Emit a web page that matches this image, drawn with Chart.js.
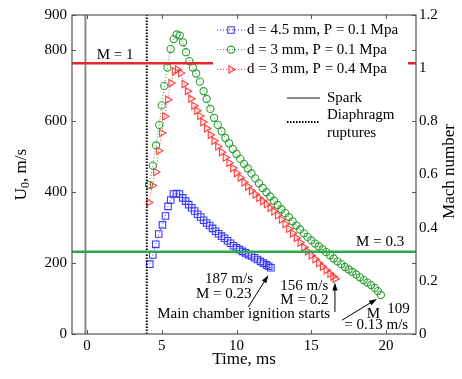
<!DOCTYPE html>
<html>
<head>
<meta charset="utf-8">
<script src="https://cdn.jsdelivr.net/npm/chart.js@4.4.1/dist/chart.umd.min.js"></script>
<style>
  html, body { margin: 0; padding: 0; background: #fff; }
  #wrap { width: 462px; height: 379px; }
</style>
</head>
<body>
<div id="wrap"><canvas id="chart" width="462" height="379"></canvas></div>
<script>
// values (time in ms, speed in m/s)
var blueTime = [4.2, 4.4, 4.6, 4.8, 5.05, 5.25, 5.42, 5.6, 5.78, 5.98, 6.18, 6.4, 6.6, 6.8, 7.0, 7.2, 7.4, 7.6, 7.8, 8.0, 8.2, 8.4, 8.6, 8.8, 9.0, 9.2, 9.4, 9.6, 9.8, 10.0, 10.2, 10.4, 10.6, 10.8, 11.0, 11.2, 11.4, 11.6, 11.8, 12.0, 12.15, 12.3];
var blueSpeed = [197, 223, 253, 282, 308, 333, 360, 378, 395, 396, 395, 384, 375, 365, 356, 347, 338, 330, 321, 313, 306, 298, 290, 283, 276, 270, 263, 256, 249, 243, 238, 233, 229, 224, 220, 215, 210, 205, 200, 195, 191, 187];

var greenTime = [4.15, 4.4, 4.62, 4.83, 5.0, 5.17, 5.38, 5.6, 5.8, 6.0, 6.2, 6.42, 6.62, 6.85, 7.08, 7.3, 7.55, 7.8, 8.0, 8.25, 8.5, 8.75, 9.0, 9.25, 9.5, 9.75, 10.0, 10.25, 10.5, 10.75, 11.0, 11.25, 11.5, 11.75, 12.0, 12.25, 12.5, 12.75, 13.0, 13.25, 13.5, 13.75, 14.0, 14.25, 14.5, 14.75, 15.0, 15.25, 15.5, 15.75, 16.0, 16.25, 16.5, 16.75, 17.0, 17.25, 17.5, 17.75, 18.0, 18.25, 18.5, 18.75, 19.0, 19.25, 19.45, 19.65];
var greenSpeed = [421, 475, 532, 590, 645, 700, 752, 804, 832, 845, 842, 823, 795, 770, 752, 735, 712, 685, 663, 635, 610, 590, 572, 553, 538, 522, 508, 494, 480, 467, 453, 439, 425, 412, 400, 388, 376, 364, 352, 341, 330, 318, 306, 295, 284, 274, 264, 255, 247, 239, 231, 222, 213, 205, 197, 189, 182, 175, 168, 160, 152, 145, 138, 130, 121, 110];

var redTime = [4.13, 4.38, 4.6, 4.8, 5.0, 5.2, 5.4, 5.62, 5.85, 6.05, 6.27, 6.5, 6.72, 6.95, 7.15, 7.35, 7.55, 7.75, 8.0, 8.25, 8.5, 8.75, 9.0, 9.25, 9.5, 9.75, 10.0, 10.25, 10.5, 10.75, 11.0, 11.25, 11.5, 11.75, 12.0, 12.25, 12.5, 12.75, 13.0, 13.25, 13.5, 13.75, 14.0, 14.25, 14.5, 14.75, 15.0, 15.25, 15.5, 15.75, 16.0, 16.25, 16.45, 16.6];
var redSpeed = [371, 419, 457, 517, 567, 614, 661, 708, 741, 746, 736, 705, 685, 664, 644, 630, 615, 598, 580, 562, 545, 529, 513, 498, 483, 468, 454, 441, 428, 416, 404, 394, 384, 375, 366, 356, 346, 335, 323, 310, 297, 284, 271, 258, 245, 233, 222, 211, 200, 190, 180, 170, 162, 156];

var seriesLabels = ["d = 4.5 mm, P = 0.1 Mpa", "d = 3 mm, P = 0.1 Mpa", "d = 3 mm, P = 0.4 Mpa"];
var timeTicks = [0, 5, 10, 15, 20];
var speedTicks = [0, 200, 400, 600, 800, 900];
var machTicks = [0, 0.2, 0.4, 0.6, 0.8, 1, 1.2];
var machOneSpeed = 764;
var machPointThreeSpeed = 232;
var sparkTime = -0.1;
var ruptureTime = 4.0;

// text notes and arrows, placed in data units
var notes = [
  { text: "M = 1", t: 1.88, v: 787, align: "center" },
  { text: "M = 0.3", t: 19.6, v: 258, align: "center" },
  { text: "187 m/s", t: 11.1, v: 156, align: "right" },
  { text: "M = 0.23", t: 11.0, v: 114, align: "right" },
  { text: "Main chamber ignition starts", t: 4.7, v: 56, align: "left" },
  { text: "156 m/s", t: 12.93, v: 135, align: "left" },
  { text: "M = 0.2", t: 12.93, v: 97, align: "left" },
  { text: "M", t: 19.15, v: 57, align: "center" },
  { text: "109", t: 20.08, v: 71, align: "left" },
  { text: "= 0.13 m/s", t: 19.34, v: 25, align: "center" }
];
var arrows = [
  { from: [10.79, 76], to: [12.13, 166] },
  { from: [16.58, 62], to: [16.58, 145] },
  { from: [17.05, 39], to: [19.39, 99] }
];

var SERIF = "'Liberation Serif', 'Times New Roman', serif";
var BLUE = "#3a3aff";
var GREEN = "#2f9e36";
var RED = "#ff3b3b";

function pairs(xs, ys) {
  return xs.map(function (x, i) {
    return { x: x, y: ys[i] };
  });
}

function series(label, xs, ys, color, style, radius, rotation) {
  return {
    label: label,
    data: pairs(xs, ys),
    showLine: true,
    borderColor: color,
    borderWidth: 1,
    borderDash: [1, 2],
    pointStyle: style,
    pointRadius: radius,
    pointRotation: rotation || 0,
    pointBackgroundColor: "rgba(0,0,0,0)",
    pointBorderColor: color,
    pointBorderWidth: 1.1,
    order: 1
  };
}

function refLine(xs, ys, color, width, dash) {
  return {
    data: pairs(xs, ys),
    showLine: true,
    borderColor: color,
    borderWidth: width,
    borderDash: dash || [],
    pointRadius: 0,
    order: 0
  };
}

function drawMarker(ctx, style, x, y, r, color) {
  ctx.save();
  ctx.strokeStyle = color;
  ctx.lineWidth = 1.1;
  ctx.beginPath();
  if (style === "rect") {
    var s = r * Math.SQRT1_2;
    ctx.rect(x - s, y - s, 2 * s, 2 * s);
  } else if (style === "circle") {
    ctx.arc(x, y, r, 0, 2 * Math.PI);
  } else {
    ctx.moveTo(x + r, y);
    ctx.lineTo(x - r * 0.5, y - r * 0.866);
    ctx.lineTo(x - r * 0.5, y + r * 0.866);
    ctx.closePath();
  }
  ctx.stroke();
  ctx.restore();
}

function drawArrow(ctx, x1, y1, x2, y2) {
  var ang = Math.atan2(y2 - y1, x2 - x1);
  var len = 8, half = 2.6;
  ctx.save();
  ctx.strokeStyle = "#000";
  ctx.fillStyle = "#000";
  ctx.lineWidth = 1;
  ctx.beginPath();
  ctx.moveTo(x1, y1);
  ctx.lineTo(x2 - Math.cos(ang) * len * 0.8, y2 - Math.sin(ang) * len * 0.8);
  ctx.stroke();
  ctx.beginPath();
  ctx.moveTo(x2, y2);
  ctx.lineTo(x2 - Math.cos(ang) * len - Math.sin(ang) * half, y2 - Math.sin(ang) * len + Math.cos(ang) * half);
  ctx.lineTo(x2 - Math.cos(ang) * len + Math.sin(ang) * half, y2 - Math.sin(ang) * len - Math.cos(ang) * half);
  ctx.closePath();
  ctx.fill();
  ctx.restore();
}

var decorPlugin = {
  id: "decor",
  afterDraw: function (chart) {
    var ctx = chart.ctx;
    var a = chart.chartArea;
    var xs = chart.scales.x;
    var ys = chart.scales.y;

    // legend box (white, hides the M = 1 line behind it)
    ctx.save();
    ctx.fillStyle = "#fff";
    ctx.fillRect(a.right - 203, a.top + 2, 195, 64);

    var styles = [
      { style: "rect", r: 4.6, color: BLUE },
      { style: "circle", r: 3.6, color: GREEN },
      { style: "triangle", r: 4.2, color: RED }
    ];
    ctx.font = "15px " + SERIF;
    ctx.textBaseline = "middle";
    ctx.textAlign = "left";
    seriesLabels.forEach(function (lab, i) {
      var y = a.top + 15 + i * 19.7;
      ctx.save();
      ctx.strokeStyle = styles[i].color;
      ctx.lineWidth = 1;
      ctx.setLineDash([1, 2]);
      ctx.beginPath();
      ctx.moveTo(a.right - 199, y);
      ctx.lineTo(a.right - 171, y);
      ctx.stroke();
      ctx.restore();
      drawMarker(ctx, styles[i].style, a.right - 185, y, styles[i].r, styles[i].color);
      ctx.fillStyle = "#000";
      ctx.fillText(lab, a.right - 169, y);
    });

    // spark / diaphragm entries
    var ySpark = a.top + 83;
    ctx.strokeStyle = "#8a8a8a";
    ctx.lineWidth = 2;
    ctx.beginPath();
    ctx.moveTo(a.right - 129, ySpark);
    ctx.lineTo(a.right - 96, ySpark);
    ctx.stroke();
    ctx.fillText("Spark", a.right - 89, ySpark);

    var yRup = a.top + 107;
    ctx.strokeStyle = "#000";
    ctx.setLineDash([1.5, 1.5]);
    ctx.beginPath();
    ctx.moveTo(a.right - 129, yRup);
    ctx.lineTo(a.right - 96, yRup);
    ctx.stroke();
    ctx.setLineDash([]);
    ctx.fillText("Diaphragm", a.right - 89, yRup - 7);
    ctx.fillText("ruptures", a.right - 89, yRup + 11);

    // notes
    notes.forEach(function (n) {
      ctx.textAlign = n.align;
      ctx.fillText(n.text, xs.getPixelForValue(n.t), ys.getPixelForValue(n.v));
    });
    arrows.forEach(function (ar) {
      drawArrow(ctx,
        xs.getPixelForValue(ar.from[0]), ys.getPixelForValue(ar.from[1]),
        xs.getPixelForValue(ar.to[0]), ys.getPixelForValue(ar.to[1]));
    });

    // frame + inward ticks
    ctx.strokeStyle = "#555";
    ctx.lineWidth = 1.2;
    ctx.strokeRect(a.left, a.top, a.right - a.left, a.bottom - a.top);
    ctx.lineWidth = 1;
    ctx.beginPath();
    timeTicks.forEach(function (t) {
      var px = Math.round(xs.getPixelForValue(t)) + 0.5;
      ctx.moveTo(px, a.bottom);
      ctx.lineTo(px, a.bottom - 4);
      ctx.moveTo(px, a.top);
      ctx.lineTo(px, a.top + 4);
    });
    speedTicks.forEach(function (v) {
      var py = Math.round(ys.getPixelForValue(v)) + 0.5;
      ctx.moveTo(a.left, py);
      ctx.lineTo(a.left + 4, py);
      ctx.moveTo(a.right, py);
      ctx.lineTo(a.right - 4, py);
    });
    ctx.stroke();

    // vertical axis titles
    var midY = (a.top + a.bottom) / 2;
    ctx.fillStyle = "#000";
    ctx.textBaseline = "middle";
    ctx.save();
    ctx.translate(22, midY);
    ctx.rotate(-Math.PI / 2);
    ctx.font = "17px " + SERIF;
    var w1 = ctx.measureText("U").width;
    ctx.font = "12px " + SERIF;
    var w2 = ctx.measureText("0").width;
    ctx.font = "17px " + SERIF;
    var w3 = ctx.measureText(", m/s").width;
    var x0 = -(w1 + w2 + w3) / 2;
    ctx.textAlign = "left";
    ctx.fillText("U", x0, 0);
    ctx.font = "12px " + SERIF;
    ctx.fillText("0", x0 + w1, 4);
    ctx.font = "17px " + SERIF;
    ctx.fillText(", m/s", x0 + w1 + w2, 0);
    ctx.restore();

    ctx.save();
    ctx.translate(450, midY - 3);
    ctx.rotate(-Math.PI / 2);
    ctx.font = "17px " + SERIF;
    ctx.textAlign = "center";
    ctx.fillText("Mach number", 0, 0);
    ctx.restore();
    ctx.restore();
  }
};

new Chart(document.getElementById("chart"), {
  type: "scatter",
  data: {
    datasets: [
      series(seriesLabels[0], blueTime, blueSpeed, BLUE, "rect", 4.6, 0),
      series(seriesLabels[1], greenTime, greenSpeed, GREEN, "circle", 3.6, 0),
      series(seriesLabels[2], redTime, redSpeed, RED, "triangle", 4.2, 90),
      refLine([-1, 22], [machOneSpeed, machOneSpeed], "#e8262b", 2.6),
      refLine([-1, 22], [machPointThreeSpeed, machPointThreeSpeed], "#2aa84a", 2.6),
      refLine([sparkTime, sparkTime], [0, 900], "#8a8a8a", 2),
      refLine([ruptureTime, ruptureTime], [0, 900], "#000", 2, [1.5, 1.5])
    ]
  },
  options: {
    responsive: false,
    animation: false,
    layout: { padding: { top: 15, left: 0, right: 0, bottom: 0 } },
    plugins: { legend: { display: false }, tooltip: { enabled: false } },
    scales: {
      x: {
        type: "linear",
        min: -1,
        max: 22,
        afterBuildTicks: function (s) {
          s.ticks = timeTicks.map(function (v) { return { value: v }; });
        },
        afterFit: function (s) { s.height = 45; },
        grid: { display: false, drawTicks: false },
        border: { display: false },
        ticks: {
          color: "#000",
          font: { family: SERIF, size: 15 },
          padding: 3,
          maxRotation: 0,
          autoSkip: false,
          callback: function (v) { return String(v); }
        },
        title: {
          display: true,
          text: "Time, ms",
          color: "#000",
          font: { family: SERIF, size: 17 },
          padding: { top: 0, bottom: 9 }
        }
      },
      y: {
        position: "left",
        min: 0,
        max: 900,
        afterBuildTicks: function (s) {
          s.ticks = speedTicks.map(function (v) { return { value: v }; });
        },
        afterFit: function (s) { s.width = 72; },
        grid: { display: false, drawTicks: false },
        border: { display: false },
        ticks: {
          color: "#000",
          font: { family: SERIF, size: 15 },
          padding: 5,
          autoSkip: false,
          callback: function (v) { return String(v); }
        }
      },
      y1: {
        position: "right",
        min: 0,
        max: 1.2,
        afterBuildTicks: function (s) {
          s.ticks = machTicks.map(function (v) { return { value: v }; });
        },
        afterFit: function (s) { s.width = 46; },
        grid: { display: false, drawTicks: false },
        border: { display: false },
        ticks: {
          color: "#000",
          font: { family: SERIF, size: 15 },
          padding: 3,
          autoSkip: false,
          callback: function (v) { return String(Math.round(v * 10) / 10); }
        }
      }
    }
  },
  plugins: [decorPlugin]
});
</script>
</body>
</html>
